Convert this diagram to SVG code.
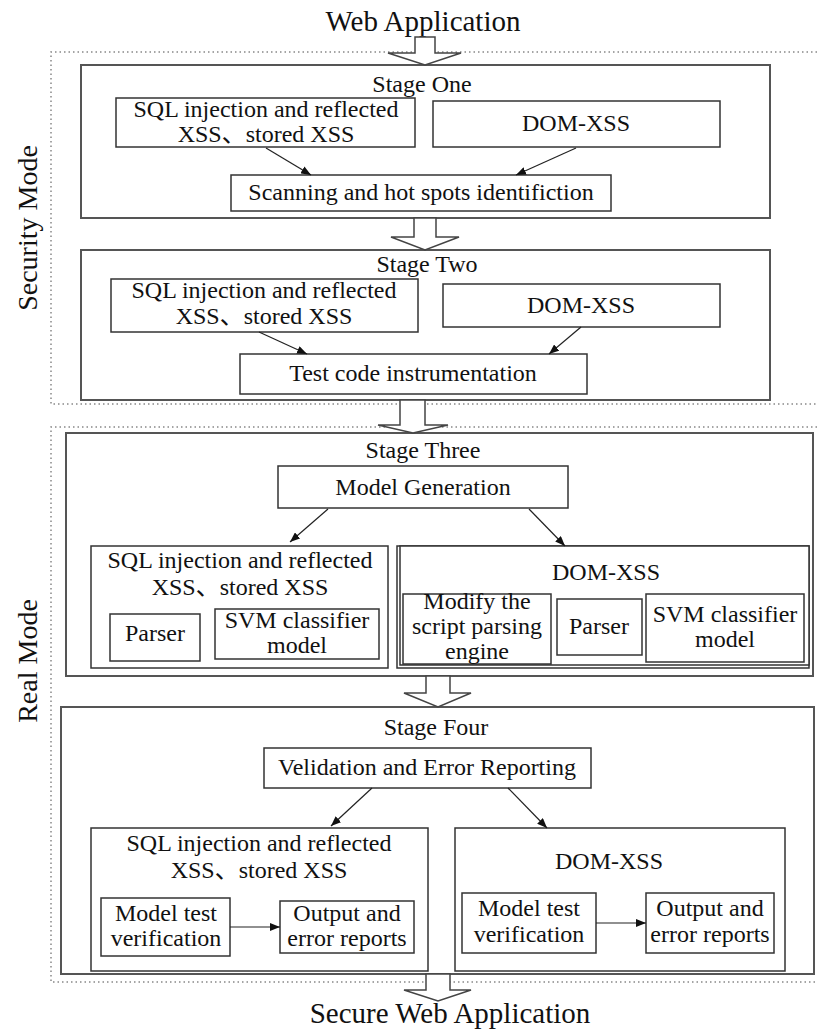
<svg xmlns="http://www.w3.org/2000/svg" width="817" height="1032" viewBox="0 0 817 1032">
<defs>
<style>
text{font-family:"Liberation Serif","Noto Sans CJK SC",serif;fill:#111;text-anchor:middle;font-size:24px}
.title{font-size:29px}
.side{font-size:28px}
.stage{fill:#fff;stroke:#555;stroke-width:2}
.box{fill:#fff;stroke:#333;stroke-width:1.5}
.dotted{fill:none;stroke:#888;stroke-width:1.5;stroke-dasharray:1.5 3}
.hollow{fill:#fff;stroke:#444;stroke-width:1.5;stroke-linejoin:miter}
.conn{stroke:#222;stroke-width:1.2;fill:none;marker-end:url(#ah)}
</style>
<marker id="ah" viewBox="0 0 10 8" refX="10" refY="4" markerWidth="10" markerHeight="8" markerUnits="userSpaceOnUse" orient="auto">
<path d="M0,0 L10,4 L0,8 Z" fill="#111"/>
</marker>
</defs>
<rect width="817" height="1032" fill="#fff"/>

<g id="titles">
<text class="title" x="423" y="31">Web Application</text>
<text class="title" x="450" y="1023">Secure Web Application</text>
</g>

<g id="security-mode">
<path class="dotted" d="M817,52 H51 V404 H817"/>
<text class="side" transform="translate(37,228) rotate(-90)" x="0" y="0">Security Mode</text>
</g>
<g id="real-mode">
<path class="dotted" d="M817,427 H51 V982 H817"/>
<text class="side" transform="translate(37,661) rotate(-90)" x="0" y="0">Real Mode</text>
</g>

<g id="stage-one">
<rect class="stage" x="81" y="65" width="689" height="153"/>
<text x="422" y="92">Stage One</text>
<g id="s1-sql"><rect class="box" x="116" y="98" width="299" height="49"/>
<text x="266" y="117">SQL injection and reflected</text><text x="266" y="142">XSS、stored XSS</text></g>
<g id="s1-dom"><rect class="box" x="433" y="101" width="287" height="46"/>
<text x="576" y="131">DOM-XSS</text></g>
<g id="s1-scan"><rect class="box" x="231" y="175" width="380" height="36"/>
<text x="421" y="200">Scanning and hot spots identifiction</text></g>
</g>

<g id="stage-two">
<rect class="stage" x="81" y="250" width="689" height="150"/>
<text x="427" y="272">Stage Two</text>
<g id="s2-sql"><rect class="box" x="111" y="279" width="307" height="53"/>
<text x="264" y="298">SQL injection and reflected</text><text x="264" y="324">XSS、stored XSS</text></g>
<g id="s2-dom"><rect class="box" x="443" y="284" width="277" height="43"/>
<text x="581" y="313">DOM-XSS</text></g>
<g id="s2-test"><rect class="box" x="240" y="354" width="347" height="40"/>
<text x="413" y="381">Test code instrumentation</text></g>
</g>

<g id="stage-three">
<rect class="stage" x="66" y="433" width="747" height="243"/>
<text x="423" y="458">Stage Three</text>
<g id="s3-model"><rect class="box" x="278" y="466" width="290" height="42"/>
<text x="423" y="495">Model Generation</text></g>
<g id="s3-sql"><rect class="box" x="91" y="546" width="297" height="122"/>
<text x="240" y="568">SQL injection and reflected</text><text x="240" y="595">XSS、stored XSS</text></g>
<g id="s3-sql-parser"><rect class="box" x="110" y="614" width="90" height="47"/>
<text x="155" y="641">Parser</text></g>
<g id="s3-sql-svm"><rect class="box" x="215" y="609" width="164" height="50"/>
<text x="297" y="628">SVM classifier</text><text x="297" y="653">model</text></g>
<g id="s3-dom"><rect class="box" x="397" y="546" width="412" height="122"/>
<rect class="box" x="400" y="546" width="409" height="119" fill="none"/>
<text x="606" y="580">DOM-XSS</text></g>
<g id="s3-dom-modify"><rect class="box" x="403" y="594" width="148" height="70"/>
<text x="477" y="609">Modify the</text><text x="477" y="634">script parsing</text><text x="477" y="659">engine</text></g>
<g id="s3-dom-parser"><rect class="box" x="557" y="599" width="85" height="56"/>
<text x="599" y="634">Parser</text></g>
<g id="s3-dom-svm"><rect class="box" x="646" y="594" width="158" height="68"/>
<text x="725" y="622">SVM classifier</text><text x="725" y="647">model</text></g>
</g>

<g id="stage-four">
<rect class="stage" x="61" y="707" width="753" height="267"/>
<text x="436" y="735">Stage Four</text>
<g id="s4-valid"><rect class="box" x="264" y="748" width="327" height="40"/>
<text x="427" y="775">Velidation and Error Reporting</text></g>
<g id="s4-sql"><rect class="box" x="91" y="828" width="337" height="143"/>
<text x="259" y="851">SQL injection and reflected</text><text x="259" y="878">XSS、stored XSS</text></g>
<g id="s4-sql-test"><rect class="box" x="101" y="898" width="129" height="58"/>
<text x="166" y="921">Model test</text><text x="166" y="946">verification</text></g>
<g id="s4-sql-out"><rect class="box" x="280" y="901" width="134" height="52"/>
<text x="347" y="921">Output and</text><text x="347" y="946">error reports</text></g>
<g id="s4-dom"><rect class="box" x="455" y="828" width="330" height="143"/>
<text x="609" y="869">DOM-XSS</text></g>
<g id="s4-dom-test"><rect class="box" x="462" y="893" width="134" height="60"/>
<text x="529" y="916">Model test</text><text x="529" y="942">verification</text></g>
<g id="s4-dom-out"><rect class="box" x="646" y="893" width="128" height="60"/>
<text x="710" y="916">Output and</text><text x="710" y="942">error reports</text></g>
</g>

<g id="connectors">
<polygon class="hollow" points="415,37 435,37 435,53 461,53 425,65 388,53 415,53"/>
<polygon class="hollow" points="414,218 436,218 436,237 459,237 425,250 391,237 414,237"/>
<polygon class="hollow" points="400,400 425,400 425,425 448,425 413,433 378,425 400,425"/>
<polygon class="hollow" points="426,676 450,676 450,693 471,693 438,707 404,693 426,693"/>
<polygon class="hollow" points="426,974 450,974 450,990 471,990 438,1001 404,990 426,990"/>
<line class="conn" x1="266" y1="148" x2="311" y2="175"/>
<line class="conn" x1="576" y1="148" x2="516" y2="175"/>
<line class="conn" x1="259" y1="332" x2="307" y2="354"/>
<line class="conn" x1="581" y1="327" x2="549" y2="354"/>
<line class="conn" x1="328" y1="509" x2="290" y2="542"/>
<line class="conn" x1="529" y1="509" x2="565" y2="546"/>
<line class="conn" x1="372" y1="788" x2="331" y2="826"/>
<line class="conn" x1="508" y1="788" x2="547" y2="828"/>
<line class="conn" x1="230" y1="927" x2="280" y2="927"/>
<line class="conn" x1="596" y1="923" x2="646" y2="923"/>
</g>
</svg>
